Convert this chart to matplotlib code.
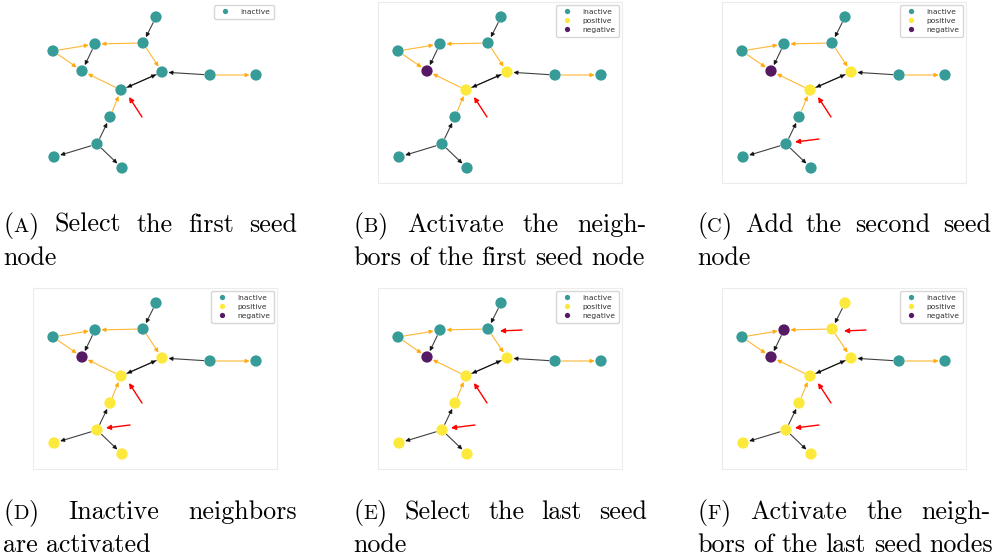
import numpy as np
import matplotlib
matplotlib.use('Agg')
import matplotlib.pyplot as plt
from matplotlib.lines import Line2D

# node layout (same for every panel)
node_x = [123, 110, 62, 20, 49, 129, 177, 223, 88, 77, 64, 21, 89]
node_y = [166, 140, 139, 132, 112, 111, 108, 108, 93, 66, 39, 26, 15]

black_edges = [(0, 1), (2, 4), (5, 8), (8, 5), (6, 5), (10, 9), (10, 11), (10, 12)]
orange_edges = [(1, 2), (1, 5), (3, 2), (3, 4), (8, 4), (6, 7), (9, 8)]

# 0 inactive, 1 positive, 2 negative
states_a = [0, 0, 0, 0, 0, 0, 0, 0, 0, 0, 0, 0, 0]
states_b = [0, 0, 0, 0, 2, 1, 0, 0, 1, 0, 0, 0, 0]
states_c = [0, 0, 0, 0, 2, 1, 0, 0, 1, 0, 0, 0, 0]
states_d = [0, 0, 0, 0, 2, 1, 0, 0, 1, 1, 1, 1, 1]
states_e = [0, 0, 0, 0, 2, 1, 0, 0, 1, 1, 1, 1, 1]
states_f = [1, 1, 2, 0, 2, 1, 0, 0, 1, 1, 1, 1, 1]
all_states = [states_a, states_b, states_c, states_d, states_e, states_f]

# seed nodes pointed at by red arrows
seeds = [[8], [8], [8, 10], [8, 10], [8, 10, 1], [8, 10, 1]]
pointer = {8: ((109, 66), (96, 86)), 10: ((97, 44), (73, 41)), 1: ((144, 139), (122, 138))}

state_names = ['inactive', 'positive', 'negative']
state_colors = ['#21918c', '#fde725', '#440154']

captions = [
    (['(A)', 'Select', 'the', 'first', 'seed'], ['node']),
    (['(B)', 'Activate', 'the', 'neigh-'], ['bors', 'of', 'the', 'first', 'seed', 'node']),
    (['(C)', 'Add', 'the', 'second', 'seed'], ['node']),
    (['(D)', 'Inactive', 'neighbors'], ['are', 'activated']),
    (['(E)', 'Select', 'the', 'last', 'seed'], ['node']),
    (['(F)', 'Activate', 'the', 'neigh-'], ['bors', 'of', 'the', 'last', 'seed', 'nodes']),
]

W, H = 1000, 557
fig = plt.figure(figsize=(10, 5.57), dpi=100)

col_left = [33, 378, 722]
row_top = [2, 288]
pw, ph = 244, 181

for k in range(6):
    r, c = divmod(k, 3)
    ax = fig.add_axes([col_left[c] / W, 1 - (row_top[r] + ph) / H, pw / W, ph / H])
    ax.set_xlim(0, pw)
    ax.set_ylim(0, ph)
    ax.set_xticks([])
    ax.set_yticks([])
    for sp in ax.spines.values():
        sp.set_color('#ececec')
        sp.set_linewidth(0.8)
        if k == 0:
            sp.set_visible(False)

    for edges, col, al in [(black_edges, 'black', 0.75), (orange_edges, 'orange', 0.8)]:
        for s, t in edges:
            ax.annotate('', xy=(node_x[t], node_y[t]), xytext=(node_x[s], node_y[s]),
                        arrowprops=dict(arrowstyle='-|>', color=col, alpha=al, lw=0.8,
                                        shrinkA=4.5, shrinkB=4.6, mutation_scale=6),
                        zorder=1)

    st = np.array(all_states[k])
    cols = [state_colors[v] for v in st]
    ax.scatter(node_x, node_y, s=66, c=cols, alpha=0.9, linewidths=0, zorder=3)

    for n in seeds[k]:
        tail, head = pointer[n]
        ax.annotate('', xy=head, xytext=tail,
                    arrowprops=dict(arrowstyle='-|>', color='red', lw=1.0,
                                    shrinkA=0, shrinkB=0, mutation_scale=7),
                    zorder=4)

    shown = [0] if k == 0 else [0, 1, 2]
    handles = [Line2D([], [], marker='o', ls='', color=state_colors[i], alpha=0.9,
                      markersize=3.8, markeredgewidth=0, label=state_names[i]) for i in shown]
    leg = ax.legend(handles=handles, loc='upper right', fontsize=5.4, borderpad=0.5,
                    labelspacing=0.35, handletextpad=1.0, borderaxespad=0.4)
    for t in leg.get_texts():
        t.set_color('#333333')

# captions, justified like the LaTeX subcaptions
renderer = fig.canvas.get_renderer()


def text_width(s, size):
    t = fig.text(0, 0, s, fontsize=size, fontfamily='cmr10')
    w = t.get_window_extent(renderer).width
    t.remove()
    return w


def pieces(word, size):
    if word.startswith('('):
        return [('(', size), (word[1], size * 0.78), (')', size)]
    return [(word, size)]


ref = ['bors', 'of', 'the', 'first', 'seed', 'node']
w10 = sum(text_width(w, 10) for w in ref) + 0.333 * 10 * 100 / 72 * (len(ref) - 1)
fs = 10 * 292 / w10 * 1.015
space = 0.30 * fs * 100 / 72

cap_left = [3, 353, 697]
cap_width = 294
base = [[232, 265], [519, 552]]

for k, (line1, line2) in enumerate(captions):
    r, c = divmod(k, 3)
    for li, words in enumerate([line1, line2]):
        toks = [pieces(w, fs) for w in words]
        widths = [[text_width(s, z) for s, z in tk] for tk in toks]
        total = sum(sum(w) for w in widths)
        if li == 0 and len(toks) > 1:
            gap = max((cap_width - total) / (len(toks) - 1), space)
        else:
            gap = space
        x = cap_left[c]
        y = base[r][li]
        for tk, ws in zip(toks, widths):
            for (s, z), w in zip(tk, ws):
                fig.text(x / W, 1 - y / H, s, fontsize=z, fontfamily='cmr10',
                         va='baseline', ha='left')
                x += w
            x += gap

fig.savefig('out.png', dpi=100)
